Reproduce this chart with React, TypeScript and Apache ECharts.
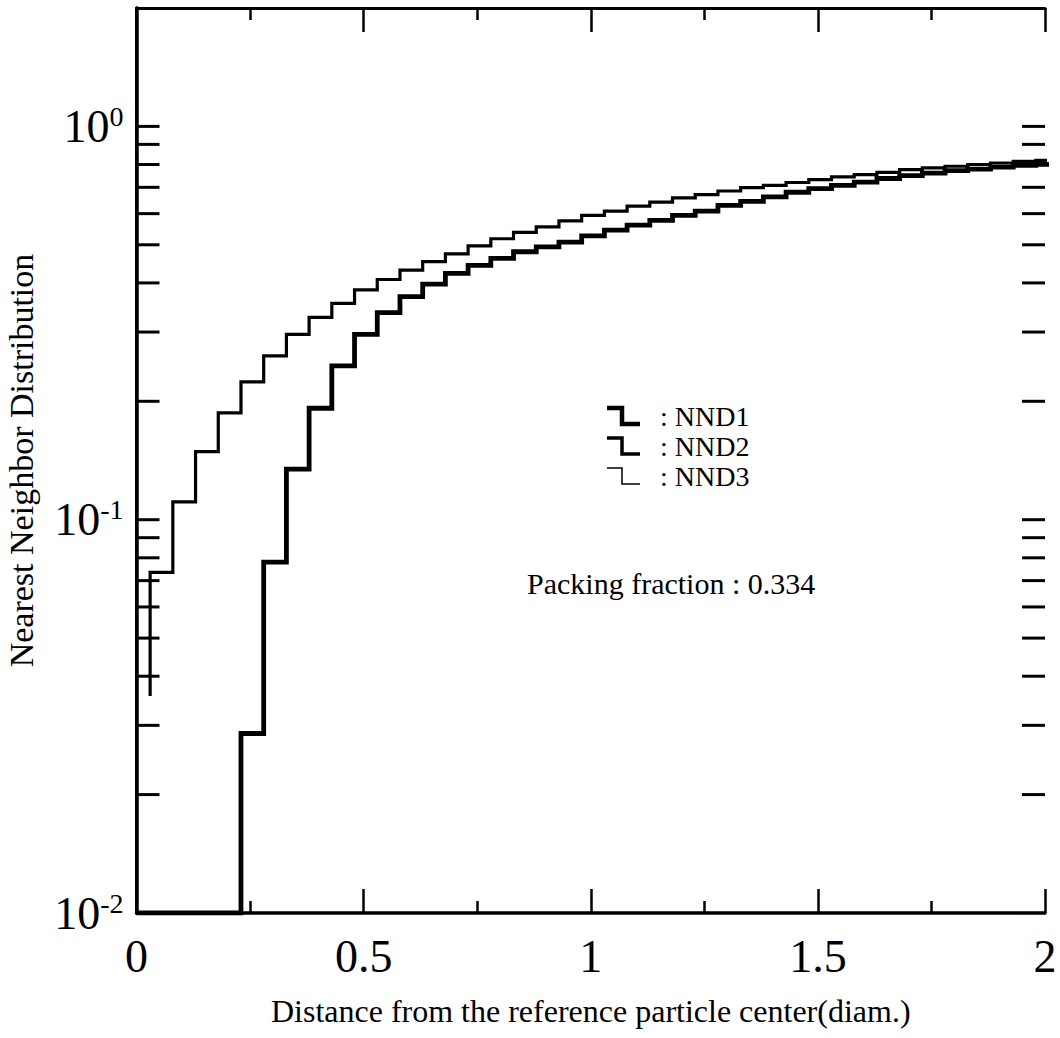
import React, { useEffect, useRef } from 'react';
import * as echarts from 'echarts';

// ---- data ----
const binStart = 0.03; // first bin edge of the upper histogram
const binWidth = 0.05;
const upperFirstValue = 0.0356; // level where the upper curve begins
const upperValues = [
  0.0735, 0.111, 0.149, 0.187, 0.224, 0.261, 0.296, 0.327, 0.355, 0.384,
  0.408, 0.431, 0.453, 0.474, 0.497, 0.518, 0.538, 0.555, 0.575, 0.594,
  0.609, 0.627, 0.642, 0.658, 0.671, 0.685, 0.699, 0.708, 0.72, 0.732,
  0.744, 0.754, 0.764, 0.776, 0.784, 0.792, 0.8, 0.807, 0.815, 0.82,
];
const lowerStartEdge = 0.23;
const lowerFloorValue = 0.01;
const lowerValues = [
  0.0286, 0.078, 0.1345, 0.192, 0.246, 0.296, 0.336, 0.369, 0.397, 0.423,
  0.443, 0.462, 0.48, 0.494, 0.508, 0.527, 0.545, 0.561, 0.577, 0.594,
  0.609, 0.63, 0.645, 0.662, 0.68, 0.695, 0.708, 0.722, 0.737, 0.75,
  0.761, 0.772, 0.779, 0.788, 0.796, 0.801,
];
const xTickValues = [0, 0.5, 1, 1.5, 2];
const xTickLabels = ['0', '0.5', '1', '1.5', '2'];
const yLabelValues = [0.01, 0.1, 1];
const yLabelExponents = ['-2', '-1', '0'];
const yTickValues = [
  0.02, 0.03, 0.04, 0.05, 0.06, 0.07, 0.08, 0.09,
  0.1, 0.2, 0.3, 0.4, 0.5, 0.6, 0.7, 0.8, 0.9, 1,
];
const legendNames = ['NND1', 'NND2', 'NND3'];
const legendWidths = [4.5, 3.5, 1.5];
const xTitle = 'Distance from the reference particle center(diam.)';
const yTitle = 'Nearest Neighbor Distribution';
const annotation = 'Packing fraction : 0.334';

const FONT = '"Liberation Serif", "Times New Roman", serif';
const r = (v: number) => Math.round(v * 10000) / 10000;

function stepPoints(startEdge: number, values: number[]) {
  const pts: number[][] = [];
  values.forEach((v, i) => {
    const left = r(startEdge + i * binWidth);
    const right = r(left + binWidth);
    pts.push([left, v], [right, v]);
  });
  return pts;
}

export default function App() {
  const ref = useRef<HTMLDivElement>(null);
  useEffect(() => {
    if (!ref.current) return;
    const chart = echarts.init(ref.current, null, { renderer: 'svg' });

    const upperData = [[binStart, upperFirstValue], ...stepPoints(binStart, upperValues)];
    const lowerData = [[0, lowerFloorValue], [lowerStartEdge, lowerFloorValue], ...stepPoints(lowerStartEdge, lowerValues)];

    const legendRowY = [416, 446, 476];
    const legendGraphics: any[] = [];
    legendNames.forEach((name, i) => {
      const y = legendRowY[i];
      legendGraphics.push({
        type: 'polyline',
        shape: { points: [[607, y - 8], [622, y - 8], [622, y + 8], [640, y + 8]] },
        style: { stroke: '#000', lineWidth: legendWidths[i], fill: null },
      });
      legendGraphics.push({
        type: 'text',
        x: 660,
        y: y,
        style: { text: ': ' + name, font: `28px ${FONT}`, fill: '#000', textVerticalAlign: 'middle', verticalAlign: 'middle' },
      });
    });

    const option: any = {
      animation: false,
      backgroundColor: '#fff',
      grid: { left: 136.5, right: 15, top: 8, bottom: 125, containLabel: false, outerBoundsMode: 'none' },
      xAxis: [
        {
          type: 'value', min: 0, max: 2, interval: 0.5, position: 'bottom',
          name: xTitle, nameLocation: 'middle', nameGap: 82,
          nameTextStyle: { fontFamily: FONT, fontSize: 32, color: '#000' },
          axisLine: { show: true, lineStyle: { color: '#000', width: 3.5 } },
          axisTick: { show: true, inside: true, length: 24, lineStyle: { color: '#000', width: 2.5 } },
          minorTick: { show: true, splitNumber: 2, length: 12, lineStyle: { color: '#000', width: 2.5 } },
          axisLabel: {
            fontFamily: FONT, fontSize: 46, color: '#000', margin: 20,
            formatter: (v: number) => {
              const idx = xTickValues.findIndex((t) => Math.abs(t - v) < 1e-6);
              return idx >= 0 ? xTickLabels[idx] : '';
            },
          },
          splitLine: { show: false },
        },
        {
          type: 'value', min: 0, max: 2, interval: 0.5, position: 'top',
          axisLine: { show: true, lineStyle: { color: '#000', width: 3 } },
          axisTick: { show: true, inside: true, length: 24, lineStyle: { color: '#000', width: 2.5 } },
          minorTick: { show: true, splitNumber: 2, length: 12, lineStyle: { color: '#000', width: 2.5 } },
          axisLabel: { show: false },
          splitLine: { show: false },
        },
      ],
      yAxis: [
        {
          type: 'log', logBase: 10, min: 0.01, max: 2, position: 'left',
          name: yTitle, nameLocation: 'middle', nameGap: 98, nameRotate: 90,
          nameTextStyle: { fontFamily: FONT, fontSize: 34, color: '#000' },
          axisLine: { show: true, lineStyle: { color: '#000', width: 3 } },
          axisTick: { show: false },
          splitLine: { show: false },
          axisLabel: {
            margin: 13, showMaxLabel: false,
            formatter: (v: number) => {
              let best = -1;
              yLabelValues.forEach((t, i) => {
                if (Math.abs(Math.log10(t) - Math.log10(v)) < 0.01) best = i;
              });
              if (best < 0) return '';
              return `{b|10}{s|${yLabelExponents[best]}}`;
            },
            rich: {
              b: { fontFamily: FONT, fontSize: 46, color: '#000', lineHeight: 48 },
              s: { fontFamily: FONT, fontSize: 28, color: '#000', lineHeight: 22, verticalAlign: 'top' },
            },
          },
        },
        {
          type: 'log', logBase: 10, min: 0.01, max: 2, position: 'right',
          axisLine: { show: true, lineStyle: { color: '#000', width: 3.5 } },
          axisTick: { show: false },
          axisLabel: { show: false },
          splitLine: { show: false },
        },
      ],
      series: [
        {
          name: 'NND2',
          type: 'line',
          data: upperData,
          showSymbol: false,
          clip: true,
          lineStyle: { color: '#000', width: 3.2, join: 'miter' },
          itemStyle: { color: '#000' },
        },
        {
          name: 'NND1',
          type: 'line',
          data: lowerData,
          showSymbol: false,
          clip: true,
          lineStyle: { color: '#000', width: 4.8, join: 'miter' },
          itemStyle: { color: '#000' },
        },
        {
          name: 'yTicks',
          type: 'custom',
          silent: true,
          clip: false,
          z: 5,
          data: yTickValues.map((v) => [0, v]),
          renderItem: (params: any, api: any) => {
            const v = api.value(1);
            const pL = api.coord([0, v]);
            const pR = api.coord([2, v]);
            return {
              type: 'group',
              children: [
                { type: 'line', shape: { x1: pL[0], y1: pL[1], x2: pL[0] + 23, y2: pL[1] }, style: { stroke: '#000', lineWidth: 3 } },
                { type: 'line', shape: { x1: pR[0] - 23, y1: pR[1], x2: pR[0], y2: pR[1] }, style: { stroke: '#000', lineWidth: 3 } },
              ],
            };
          },
        },
      ],
      graphic: [
        ...legendGraphics,
        {
          type: 'text',
          x: 527,
          y: 583,
          style: { text: annotation, font: `30px ${FONT}`, fill: '#000', verticalAlign: 'middle', textVerticalAlign: 'middle' },
        },
      ],
    };
    chart.setOption(option);
    return () => chart.dispose();
  }, []);

  return <div ref={ref} style={{ width: 1060, height: 1038, position: 'absolute', left: 0, top: 0, background: '#fff' }} />;
}
